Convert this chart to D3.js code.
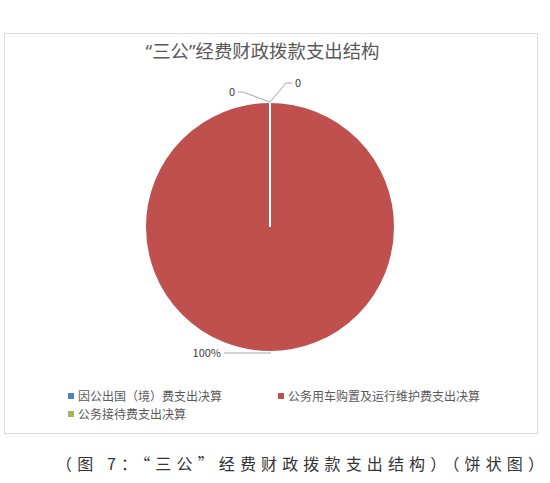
<!DOCTYPE html>
<html>
<head>
<meta charset="utf-8">
<script src="https://cdn.jsdelivr.net/npm/d3@7"></script>
<style>
  body { margin: 0; background: #fff; }
  svg { display: block; }
</style>
</head>
<body>
<div id="chart"></div>
<script>
// data
const categories = ["因公出国（境）费支出决算", "公务用车购置及运行维护费支出决算", "公务接待费支出决算"];
const values = [0, 100, 0];
const labels = ["0", "100%", "0"];
const colors = ["#4F81BD", "#C0504D", "#9BBB59"];

const width = 550;
const height = 483;
const cx = 270, cy = 227, radius = 125;

const svg = d3.select("#chart")
  .append("svg")
  .attr("width", width)
  .attr("height", height)
  .style("font-family", "'Noto Sans CJK SC', sans-serif");

// chart frame
svg.append("rect")
  .attr("x", 4.5)
  .attr("y", 33.5)
  .attr("width", 533)
  .attr("height", 400)
  .attr("fill", "#fff")
  .attr("stroke", "#d9d9d9");

// latin font first so the curly quotes come out narrow like the original
svg.append("text")
  .attr("x", 262.5)
  .attr("y", 58)
  .attr("text-anchor", "middle")
  .attr("font-size", 18.4)
  .attr("fill", "#595959")
  .style("font-family", "'Noto Sans', 'Noto Sans CJK SC', sans-serif")
  .text("“三公”经费财政拨款支出结构");

const data = categories.map((c, i) => ({ name: c, value: values[i], label: labels[i], color: colors[i] }));

const pie = d3.pie()
  .sort(null)
  .value(d => d.value);

const arc = d3.arc()
  .innerRadius(0)
  .outerRadius(radius);

const g = svg.append("g")
  .attr("transform", `translate(${cx},${cy})`);

const arcs = pie(data);

// big slices first, zero slices on top so their white edge shows
g.selectAll("path")
  .data(arcs.slice().sort((a, b) => b.value - a.value))
  .enter()
  .append("path")
  .attr("d", arc)
  .attr("fill", d => d.data.color)
  .attr("stroke", "#fff")
  .attr("stroke-width", 2);

// label placement (leader line offsets like the excel layout)
const labelOffsets = [
  { dx: 16, dy: -19, hx: 6, anchor: "start" },
  { dx: -46, dy: 0, hx: 0, anchor: "end" },
  { dx: -27, dy: -10, hx: -5, anchor: "end" }
];

arcs.forEach((d, i) => {
  const mid = (d.startAngle + d.endAngle) / 2;
  const px = Math.sin(mid) * radius;
  const py = -Math.cos(mid) * radius;
  const o = labelOffsets[i];
  const ex = px + o.dx, ey = py + o.dy + (d.value > 0 ? 1 : 0);
  const pts = d.value > 0
    ? [[px + 1, py + 1], [ex, ey]]
    : [[px, py], [ex, ey], [ex + o.hx, ey]];
  g.append("path")
    .attr("d", d3.line()(pts))
    .attr("fill", "none")
    .attr("stroke", "#a6a6a6")
    .attr("stroke-width", 1);
  g.append("text")
    .attr("x", pts[pts.length - 1][0] + (o.anchor === "start" ? 3 : -3))
    .attr("y", ey + 4)
    .attr("text-anchor", o.anchor)
    .attr("font-size", 11)
    .attr("fill", "#404040")
    .text(d.data.label);
});

// legend
const legendPos = [[68, 396], [278, 396], [68, 414]];
const legend = svg.selectAll(".legend")
  .data(data)
  .enter()
  .append("g")
  .attr("class", "legend")
  .attr("transform", (d, i) => `translate(${legendPos[i][0]},${legendPos[i][1]})`);

legend.append("rect")
  .attr("x", 0)
  .attr("y", -3)
  .attr("width", 6)
  .attr("height", 6)
  .attr("fill", d => d.color);

legend.append("text")
  .attr("x", 10)
  .attr("y", 4.5)
  .attr("font-size", 12)
  .attr("fill", "#595959")
  .text(d => d.name);

// caption below the chart
svg.append("text")
  .attr("x", 56)
  .attr("y", 470)
  .attr("font-size", 16)
  .attr("textLength", 488)
  .attr("lengthAdjust", "spacing")
  .attr("fill", "#333")
  .text("（图 7：“三公”经费财政拨款支出结构）（饼状图）");
</script>
</body>
</html>
